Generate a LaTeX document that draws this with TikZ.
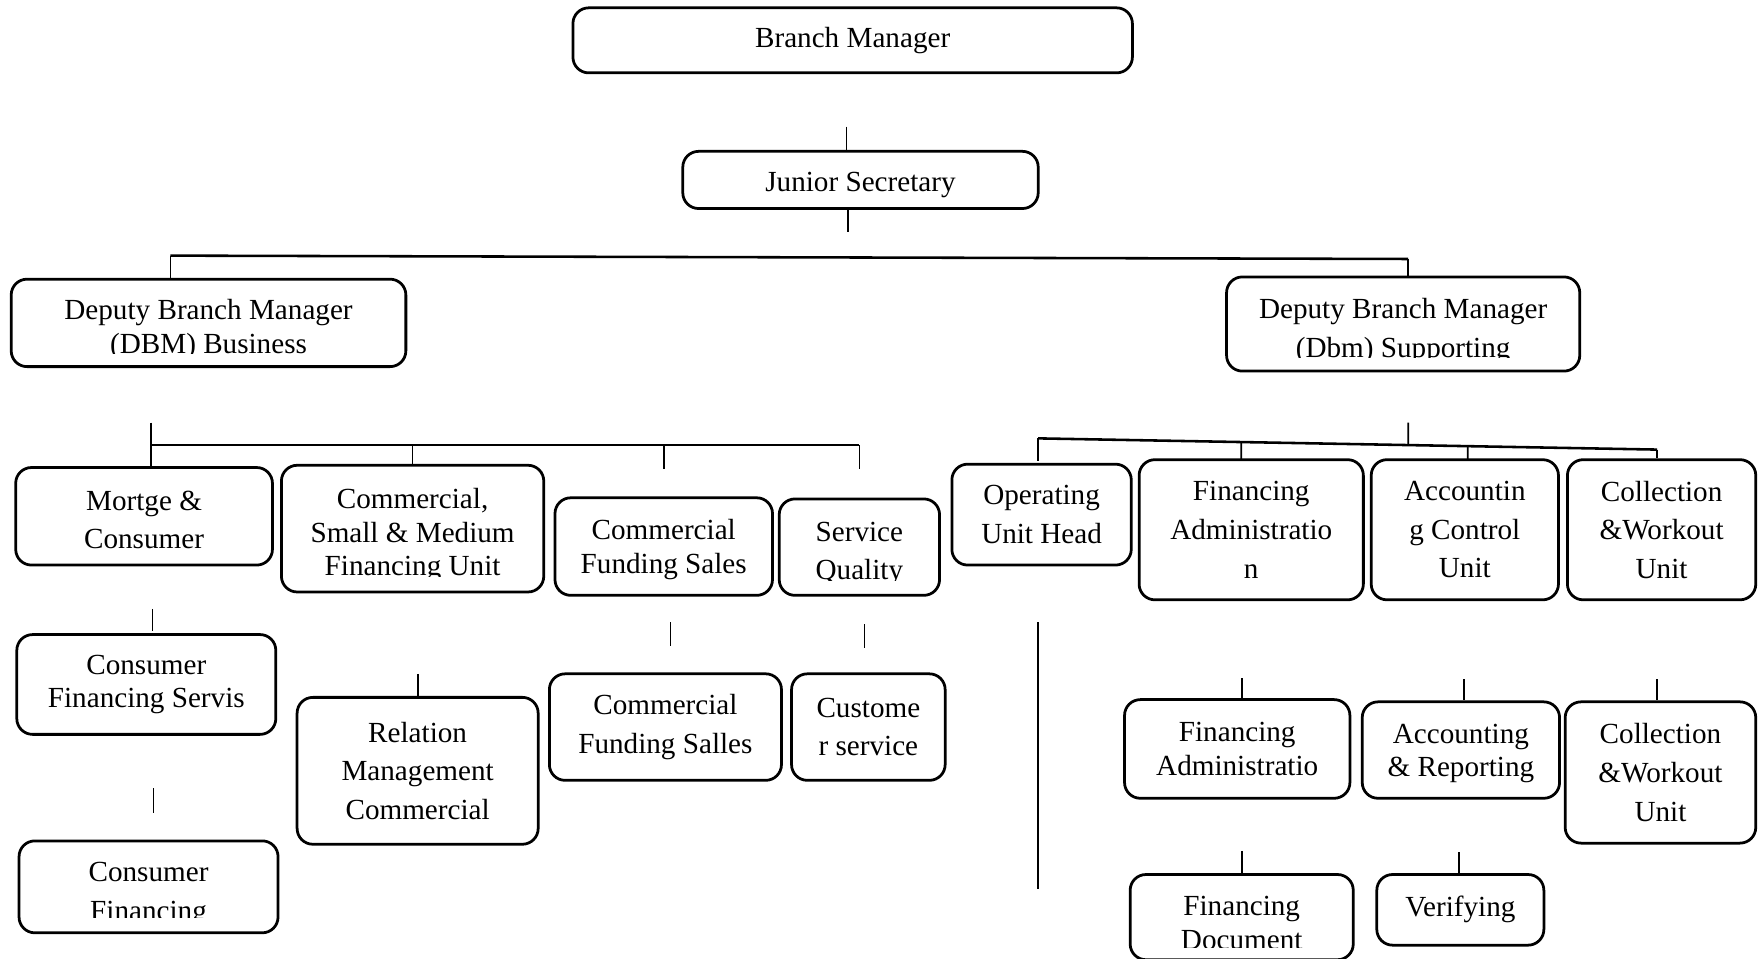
\documentclass[tikz,border=0pt]{standalone}
\usepackage{fontspec}
\setmainfont{Liberation Serif}
\usetikzlibrary{calc}
\newcommand{\tightsz}{\fontsize{7.4}{8.5}\selectfont}
\newcommand{\loosesz}{\fontsize{7.4}{9.8}\selectfont}
\newcommand{\sk}[1]{\rule{0pt}{#1}}
\tikzset{
 every node/.append style={align=center},
 unit/.style={draw,rounded corners=4pt,line width=.7pt,inner sep=0pt,font=\tightsz},
 loose/.style={font=\loosesz},
 link/.style={line width=.45pt},
 bus/.style={line width=.65pt},
 cutoff/.style={fill=white},
}

\begin{document}
\begin{tikzpicture}

\useasboundingbox (0,0) rectangle (15.68,-8.55);
% top
\node[unit,minimum width=4.99cm,minimum height=.58cm] (bm) at (7.605,-.36) {Branch Manager};
\node[unit,minimum width=3.17cm,minimum height=.51cm] (js) at (7.675,-1.605) {\sk{7.3pt}Junior Secretary};
\node[unit,minimum width=3.52cm,minimum height=.78cm] (dbmb) at (1.86,-2.88) {\sk{8.4pt}Deputy Branch Manager\\(DBM) Business};
\node[unit,loose,minimum width=3.15cm,minimum height=.84cm] (dbms) at (12.515,-2.89) {\sk{8.6pt}Deputy Branch Manager\\(Dbm) Supporting};
% business side
\node[unit,loose,minimum width=2.29cm,minimum height=.87cm] (mc) at (1.285,-4.605) {\sk{6.7pt}Mortge \&\\Consumer};
\node[unit,minimum width=2.34cm,minimum height=1.13cm] (csm) at (3.68,-4.715) {\sk{8.4pt}Commercial,\\Small \& Medium\\Financing Unit};
\node[unit,minimum width=1.94cm,minimum height=.87cm] (cfs) at (5.92,-4.875) {\sk{6.7pt}Commercial\\Funding Sales};
\node[unit,loose,minimum width=1.43cm,minimum height=.86cm] (sq) at (7.665,-4.88) {\sk{8.4pt}Service\\Quality};
\node[unit,minimum width=2.31cm,minimum height=.89cm] (cfsv) at (1.305,-6.105) {Consumer\\Financing Servis};
\node[unit,loose,minimum width=2.31cm,minimum height=.82cm] (cf) at (1.325,-7.91) {\sk{8.8pt}Consumer\\Financing};
\node[unit,loose,minimum width=2.15cm,minimum height=1.31cm] (rmc) at (3.725,-6.875) {Relation\\Management\\Commercial};
\node[unit,loose,minimum width=2.07cm,minimum height=.95cm] (cfsl) at (5.935,-6.485) {Commercial\\Funding Salles};
\node[unit,loose,minimum width=1.37cm,minimum height=.95cm] (cs) at (7.745,-6.485) {Custome\\r service};
% supporting side
\node[unit,loose,minimum width=1.6cm,minimum height=.9cm] (ouh) at (9.29,-4.59) {Operating\\Unit Head};
\node[unit,loose,minimum width=2cm,minimum height=1.25cm] (fa) at (11.16,-4.725) {Financing\\Administratio\\n};
\node[unit,loose,minimum width=1.67cm,minimum height=1.25cm] (acu) at (13.065,-4.725) {Accountin\\g Control\\Unit};
\node[unit,loose,minimum width=1.68cm,minimum height=1.25cm] (cwu) at (14.82,-4.725) {Collection\\\&Workout\\Unit};
\node[unit,minimum width=2.01cm,minimum height=.88cm] (fa2) at (11.035,-6.68) {Financing\\Administratio};
\node[unit,minimum width=1.76cm,minimum height=.86cm] (ar) at (13.03,-6.69) {\sk{6.7pt}Accounting\\\& Reporting};
\node[unit,loose,minimum width=1.7cm,minimum height=1.26cm] (cwu2) at (14.81,-6.89) {Collection\\\&Workout\\Unit};
\node[unit,minimum width=1.99cm,minimum height=.76cm] (fd) at (11.075,-8.18) {\sk{7.8pt}Financing\\Document};
\node[unit,minimum width=1.49cm,minimum height=.63cm] (ver) at (13.025,-8.115) {Verifying};

% text running out of its box is cut off
\fill[cutoff] (.9,-3.155) rectangle (2.85,-3.245);
\fill[cutoff] (11.5,-3.195) rectangle (13.5,-3.285);
\fill[cutoff] (2.85,-5.145) rectangle (4.5,-5.255);
\fill[cutoff] (7.1,-5.185) rectangle (8.2,-5.285);
\fill[cutoff] (.7,-8.19) rectangle (2,-8.295);
\fill[cutoff] (10.45,-8.455) rectangle (11.7,-8.54);

% lines
\coordinate (s0) at (7.55,-1.13);
\draw[link] (s0) -- (s0 |- js.north);
\coordinate (s1) at (7.56,-2.07);
\draw[link] (s1 |- js.south) -- (s1);
\coordinate (b1l) at (1.52,-2.28);
\coordinate (b1r) at (12.56,-2.31);
\draw[bus] (b1l) -- (b1r);
\draw[link] (b1l) -- (b1l |- dbmb.north);
\draw[link] (b1r) -- (b1r |- dbms.north);

\coordinate (s2) at (1.35,-3.77);
\coordinate (b2) at (1.35,-3.97);
\draw[bus] (b2) -- (sq.north |- b2);
\draw[link] (s2) -- (s2 |- mc.north);
\draw[link] (csm.north |- b2) -- (csm.north);
\draw[link] (cfs.north |- b2) -- ++(0,-.21);
\draw[link] (sq.north |- b2) -- ++(0,-.21);
\draw[link] (1.36,-5.43) -- ++(0,-.2);
\draw[link] (1.37,-7.03) -- ++(0,-.22);
\coordinate (s3) at (3.73,-6.01);
\draw[link] (s3) -- (s3 |- rmc.north);
\draw[link] (5.98,-5.55) -- ++(0,-.21);
\draw[link] (7.71,-5.57) -- ++(0,-.21);

\coordinate (s4) at (12.56,-3.77);
\coordinate (b3l) at (9.26,-3.91);
\coordinate (b3r) at (14.78,-4.01);
\draw[bus] (b3l) -- (b3r);
\draw[link] (s4) -- ($(b3l)!.598!(b3r)$);
\draw[link] (b3l) -- ++(0,-.2);
\draw[link] ($(b3l)!.328!(b3r)$) -- (11.07,-4.1);
\draw[link] ($(b3l)!.694!(b3r)$) -- (13.09,-4.1);
\draw[link] (b3r) -- (b3r |- cwu.north);
\draw[link] (9.26,-5.55) -- (9.26,-7.93);
\coordinate (s5) at (11.08,-6.05);
\draw[link] (s5) -- (s5 |- fa2.north);
\coordinate (s6) at (13.06,-6.06);
\draw[link] (s6) -- (s6 |- ar.north);
\coordinate (s7) at (14.78,-6.06);
\draw[link] (s7) -- (s7 |- cwu2.north);
\coordinate (s8) at (11.08,-7.59);
\draw[link] (s8) -- (s8 |- fd.north);
\coordinate (s9) at (13.01,-7.6);
\draw[link] (s9) -- (s9 |- ver.north);

\end{tikzpicture}
\end{document}
